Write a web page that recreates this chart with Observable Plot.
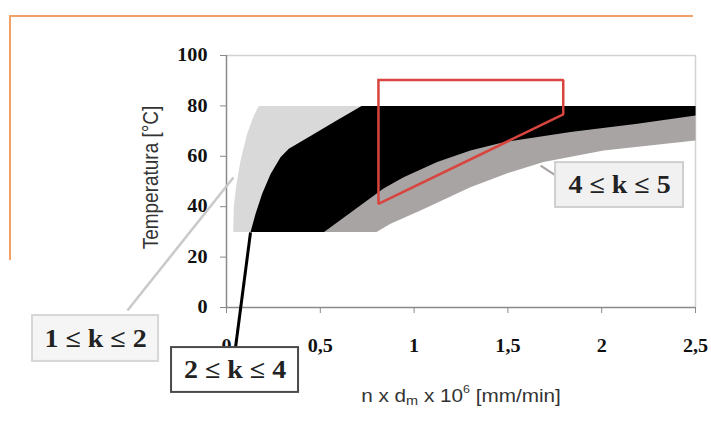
<!DOCTYPE html>
<html>
<head>
<meta charset="utf-8">
<script src="https://cdn.jsdelivr.net/npm/d3@7"></script>
<script src="https://cdn.jsdelivr.net/npm/@observablehq/plot@0.6"></script>
<style>
  body { margin: 0; background: #fff; }
  #wrap { position: relative; width: 711px; height: 430px; overflow: hidden; }
  #wrap svg { position: absolute; left: 0; top: 0; }
  .deco-top { position: absolute; left: 10px; top: 15px; width: 683px; border-top: 2px solid #f3a068; }
  .deco-left { position: absolute; left: 9px; top: 15px; height: 245px; border-left: 2px solid #f3a068; }
</style>
</head>
<body>
<div id="wrap"><div class="deco-top"></div><div class="deco-left"></div></div>
<script>
// ---- data ----
const xTicks = [0, 0.5, 1, 1.5, 2, 2.5];
const yTicks = [0, 20, 40, 60, 80, 100];

// region 1 <= k <= 2 (light grey)
const zoneK12 = [[0.036,30],[0.039,40],[0.053,49],[0.075,58.3],[0.11,68.9],[0.146,76.2],[0.172,80],[0.72,80],[0.55,35],[0.52,30]];
// region 4 <= k <= 5 (dark grey)
const zoneK45 = [[0.52,30],[0.80,30],[0.874,33.2],[1.034,38.5],[1.30,47.7],[1.514,53.7],[1.69,57.7],[2.01,62.3],[2.5,66.3],[2.5,80],[0.72,80],[0.55,35]];
// region 2 <= k <= 4 (black)
const zoneK24 = [[0.128,30],[0.155,37.2],[0.19,45.1],[0.235,53],[0.288,59.6],[0.332,63],[0.45,68.2],[0.58,73.9],[0.72,80],[2.5,80],[2.5,76.2],[2.19,72.9],[1.834,69.6],[1.477,65.6],[1.30,62.3],[1.123,57.7],[0.944,51.7],[0.837,47.2],[0.52,30]];
// red outline
const redZone = [[0.81,90.3],[1.795,90.3],[1.795,76.6],[0.81,41.1],[0.81,90.3]];

// annotation boxes (data coordinates) and labels
const boxLabels = ["1 \u2264 k \u2264 2", "2 \u2264 k \u2264 4", "4 \u2264 k \u2264 5"];
const boxX1 = [-1.034, -0.293, 1.754];
const boxX2 = [-0.362, 0.384, 2.436];
const boxY1 = [-21.4, -33.7, 39.7];
const boxY2 = [-3.2, -15.9, 57.5];
const boxFill = ["#f5f5f5", "#ffffff", "#f1f1f1"];
const boxStroke = ["#d6d6d6", "#4a4a4a", "#cfcfcf"];
// leader lines
const leaderX1 = [-0.528, 0.048, 1.674];
const leaderY1 = [-1.2, -15.9, 56.3];
const leaderX2 = [0.037, 0.128, 1.754];
const leaderY2 = [51.6, 29.8, 52.4];
const leaderColor = ["#c9c9c9", "#000000", "#a8a3a3"];
const leaderWidth = [2.5, 3, 2];

const yLabel = "Temperatura [\u00b0C]";
const xLabelParts = [["n x d", ""], ["m", "sub"], [" x 10", ""], ["6", "sup"], [" [mm/min]", ""]];
const xLabel = xLabelParts.map(p => p[0]).join("");

// ---- build tables ----
const boxes = boxLabels.map((t, i) => ({
  t, x1: boxX1[i], x2: boxX2[i], y1: boxY1[i], y2: boxY2[i],
  xm: (boxX1[i] + boxX2[i]) / 2, ym: (boxY1[i] + boxY2[i]) / 2,
  fill: boxFill[i], stroke: boxStroke[i]
}));
const leaders = leaderX1.map((x, i) => ({x1: x, y1: leaderY1[i], x2: leaderX2[i], y2: leaderY2[i], c: leaderColor[i], w: leaderWidth[i]}));

const px = d => d[0], py = d => d[1];
const serif = "Liberation Serif, Times New Roman, serif";
const sans = "Liberation Sans, Arial, sans-serif";
const tickFont = {fontSize: 18, fontWeight: "bold", fontFamily: serif};

const chart = Plot.plot({
  width: 711, height: 430,
  marginLeft: 226, marginRight: 16, marginTop: 55, marginBottom: 123,
  x: {domain: [0, 2.5], label: null},
  y: {domain: [0, 100], label: null},
  style: {background: "transparent", overflow: "visible"},
  marks: [
    Plot.ruleY([100], {stroke: "#d2d2d2", strokeWidth: 1.5}),
    Plot.ruleX([2.5], {stroke: "#d2d2d2", strokeWidth: 1.5}),
    Plot.line(zoneK12, {x: px, y: py, fill: "#d9d9d9", stroke: "none"}),
    Plot.line(zoneK45, {x: px, y: py, fill: "#a9a4a4", stroke: "none"}),
    Plot.line(zoneK24, {x: px, y: py, fill: "#000000", stroke: "none"}),
    Plot.line(redZone, {x: px, y: py, stroke: "#d8453f", strokeWidth: 2.5, strokeLinejoin: "miter", strokeLinecap: "square"}),
    Plot.ruleX([0], {stroke: "#8a8a8a", strokeWidth: 1.5}),
    Plot.ruleY([0], {stroke: "#8a8a8a", strokeWidth: 1.5}),
    Plot.axisY(yTicks, {tickSize: 6, tickPadding: 13, stroke: "#8a8a8a", fill: "#111", label: null, tickFormat: d => String(d), ...tickFont}),
    Plot.axisX(xTicks, {tickSize: 6, tickPadding: 26, stroke: "#8a8a8a", fill: "#111", label: null, tickFormat: d => String(d).replace(".", ","), ...tickFont}),
    Plot.link(leaders, {x1: "x1", y1: "y1", x2: "x2", y2: "y2", stroke: "c", strokeWidth: "w"}),
    Plot.rect(boxes, {x1: "x1", x2: "x2", y1: "y1", y2: "y2", fill: d => d.fill, stroke: d => d.stroke, strokeWidth: 2}),
    Plot.text(boxes, {x: "xm", y: "ym", text: "t", fontSize: 25, fontWeight: "bold", fontFamily: serif, fill: "#222"}),
    Plot.text([yLabel], {frameAnchor: "left", textAnchor: "middle", dx: -75, dy: -4, rotate: -90, text: d => d, fontSize: 19, fontFamily: sans, fill: "#333"}),
    Plot.text([xLabel], {frameAnchor: "bottom", textAnchor: "middle", dy: 94, text: d => d, fontSize: 18.5, fontFamily: sans, fill: "#333"})
  ]
});
document.getElementById("wrap").appendChild(chart);

const svg = d3.select(chart);
// subscript / superscript on the x label
svg.selectAll("text").filter(function() { return this.textContent === xLabel; }).each(function() {
  const el = d3.select(this);
  el.text(null);
  xLabelParts.forEach(([s, kind]) => {
    const ts = el.append("tspan").text(s);
    if (kind === "sub") ts.attr("font-size", "0.7em").attr("dy", "0.3em");
    if (kind === "sup") ts.attr("font-size", "0.6em").attr("dy", "-0.75em");
    if (kind === "" && s.startsWith(" x 10")) ts.attr("dy", "-0.21em");
    if (kind === "" && s.startsWith(" [")) ts.attr("dy", "0.45em");
  });
});
// horizontal stretch of the text like the reference
svg.selectAll("text").each(function() {
  const t = this.getAttribute("transform") || "";
  this.setAttribute("transform", t + (t.includes("rotate") ? " scale(1,1.12)" : " scale(1.12,1)"));
});
</script>
</body>
</html>
